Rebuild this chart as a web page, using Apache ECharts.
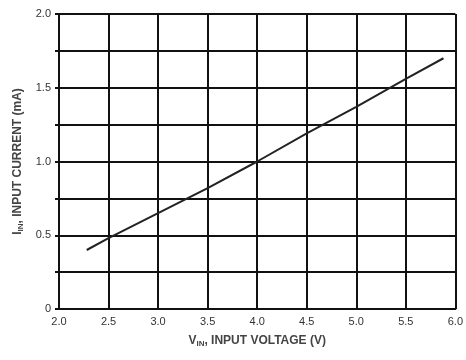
<!DOCTYPE html>
<html><head><meta charset="utf-8">
<script src="https://cdn.jsdelivr.net/npm/echarts@6/dist/echarts.min.js"></script>
<style>html,body{margin:0;padding:0;background:#fff}#c{width:466px;height:360px}</style>
</head><body><div id="c"></div>
<script>
var vin = [2.28, 2.5, 3.0, 3.5, 4.0, 4.5, 5.0, 5.5, 5.88];
var iin = [0.40, 0.48, 0.65, 0.82, 1.0, 1.19, 1.37, 1.56, 1.70];
var xTickLabels = ['2.0','2.5','3.0','3.5','4.0','4.5','5.0','5.5','6.0'];
var yTickLabels = {0:'0', 0.5:'0.5', 1:'1.0', 1.5:'1.5', 2:'2.0'};

var chart = echarts.init(document.getElementById('c'));
var font = 'Liberation Sans Narrow, Liberation Sans, sans-serif';
chart.setOption({
  animation: false,
  grid: {left: 59, right: 9, top: 14, bottom: 51},
  xAxis: {
    type: 'value', min: 2, max: 6, interval: 0.5,
    axisLine: {show: true, onZero: false, lineStyle: {color: '#111', width: 2}},
    axisTick: {show: false},
    splitLine: {show: true, lineStyle: {color: '#111', width: 2}},
    axisLabel: {color: '#333', fontSize: 11, fontFamily: font, margin: 7,
      formatter: function(v){ return xTickLabels[Math.round((v-2)/0.5)]; }},
    name: 'V{s|IN}, INPUT VOLTAGE (V)', nameLocation: 'middle', nameGap: 25,
    nameTextStyle: {color: '#444', fontSize: 12, fontFamily: font, fontWeight: 'bold',
      rich: {s: {fontSize: 8, color: '#444', fontWeight: 'bold', fontFamily: font, padding: [6,0,0,0]}}}
  },
  yAxis: {
    type: 'value', min: 0, max: 2, interval: 0.25,
    axisLine: {show: true, lineStyle: {color: '#111', width: 2}},
    axisTick: {show: true, length: 4, lineStyle: {color: '#111', width: 2}},
    splitLine: {show: true, lineStyle: {color: '#111', width: 2}},
    axisLabel: {color: '#333', fontSize: 11, fontFamily: font, margin: 8,
      formatter: function(v){ var k = Math.round(v*100)/100; return yTickLabels[k] !== undefined ? yTickLabels[k] : ''; }},
    name: 'I{s|IN}, INPUT CURRENT (mA)', nameLocation: 'middle', nameGap: 33,
    nameTextStyle: {color: '#444', fontSize: 12, fontFamily: font, fontWeight: 'bold',
      rich: {s: {fontSize: 8, color: '#444', fontWeight: 'bold', fontFamily: font, padding: [6,0,0,0]}}}
  },
  series: [{
    type: 'line', data: vin.map(function(x,i){return [x, iin[i]];}),
    showSymbol: false, smooth: false,
    lineStyle: {color: '#222', width: 2}
  }]
});
</script></body></html>
